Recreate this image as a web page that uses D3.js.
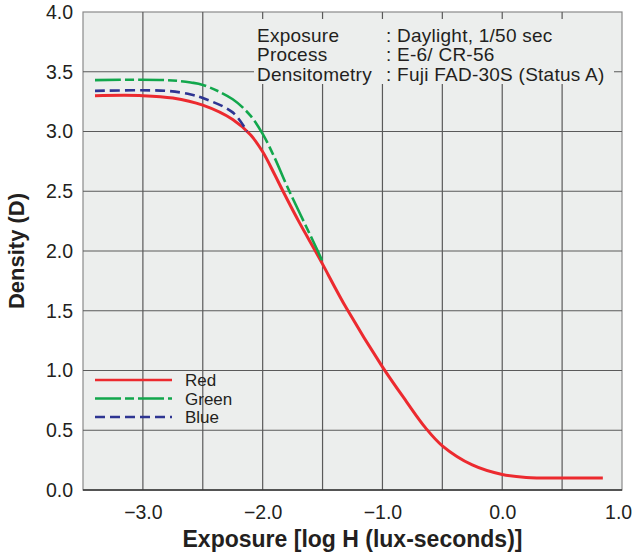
<!DOCTYPE html>
<html>
<head>
<meta charset="utf-8">
<script src="https://cdn.jsdelivr.net/npm/d3@7"></script>
<style>
  body { margin: 0; background: #fff; }
  text { font-family: "Liberation Sans", Arial, sans-serif; fill: #231f20; }
</style>
</head>
<body>
<div id="chart"></div>
<script>
// characteristic curves: [log H, density]
const red = [[-3.4, 3.30], [-3.0, 3.30], [-2.75, 3.28], [-2.5, 3.22], [-2.25, 3.10],
  [-2.1, 2.97], [-2.0, 2.83], [-1.9, 2.64], [-1.83, 2.5], [-1.7, 2.25], [-1.56, 2.0],
  [-1.5, 1.89], [-1.3, 1.52], [-1.0, 1.03], [-0.8, 0.74], [-0.64, 0.52], [-0.5, 0.37],
  [-0.25, 0.21], [0.0, 0.13], [0.2, 0.105], [0.5, 0.10], [0.84, 0.10]];
const green = [[-3.4, 3.43], [-2.8, 3.43], [-2.6, 3.41], [-2.5, 3.39], [-2.25, 3.27],
  [-2.1, 3.13], [-2.0, 2.98], [-1.9, 2.78], [-1.8, 2.55], [-1.54, 2.0], [-1.5, 1.91]];
const blue = [[-3.4, 3.34], [-2.8, 3.34], [-2.6, 3.31], [-2.5, 3.28], [-2.25, 3.16],
  [-2.13, 3.00]];

const xTicks = [-3, -2, -1, 0, 1];
const yTicks = [0, 0.5, 1, 1.5, 2, 2.5, 3, 3.5, 4];
const gridX = [-3, -2.5, -2, -1.5, -1, -0.5, 0, 0.5];
const gridY = [0.5, 1, 1.5, 2, 2.5, 3, 3.5];

const noteKeys = ["Exposure", "Process", "Densitometry"];
const noteVals = [": Daylight, 1/50 sec", ": E-6/ CR-56", ": Fuji FAD-30S (Status A)"];

const series = [
  { name: "Red", data: red, color: "#ec2a2f", dash: null, w: 3 },
  { name: "Green", data: green, color: "#12a74c", dash: "26,4,9,4", w: 2.6 },
  { name: "Blue", data: blue, color: "#2e3592", dash: "10,5", w: 2.6 }
];

const width = 634, height = 552,
  margin = ({ top: 12, right: 12, bottom: 62, left: 83 });

const svg = d3.select("#chart")
  .append("svg")
  .attr("width", width)
  .attr("height", height);

let x = d3.scaleLinear()
  .domain([-3.5, 1])
  .range([margin.left, width - margin.right]);

let y = d3.scaleLinear()
  .domain([0, 4])
  .range([height - margin.bottom, margin.top]);

// plot background
svg.append("rect")
  .attr("x", x(-3.5))
  .attr("y", y(4))
  .attr("width", x(1) - x(-3.5))
  .attr("height", y(0) - y(4))
  .attr("fill", "#eceeed")
  .attr("stroke", "#8a8a8a")
  .attr("stroke-width", 1.2);

// grid
svg.append("g")
  .selectAll("line.gx")
  .data(gridX)
  .join("line")
    .attr("x1", d => x(d)).attr("x2", d => x(d))
    .attr("y1", y(0)).attr("y2", y(4))
    .attr("stroke", "#5a5a5a")
    .attr("stroke-width", 1.2);

svg.append("g")
  .selectAll("line.gy")
  .data(gridY)
  .join("line")
    .attr("x1", x(-3.5)).attr("x2", x(1))
    .attr("y1", d => y(d)).attr("y2", d => y(d))
    .attr("stroke", "#5a5a5a")
    .attr("stroke-width", 1.2);

// bottom edge a little darker
svg.append("line")
  .attr("x1", x(-3.5)).attr("x2", x(1))
  .attr("y1", y(0)).attr("y2", y(0))
  .attr("stroke", "#333")
  .attr("stroke-width", 1.4);

// note box covers the grid
svg.append("rect")
  .attr("x", 254).attr("y", 19)
  .attr("width", 360).attr("height", 65)
  .attr("fill", "#eceeed");

const note = svg.append("g")
  .attr("font-size", "19px")
  .attr("letter-spacing", "0.25px");
note.selectAll("text.k")
  .data(noteKeys)
  .join("text")
    .attr("x", 257)
    .attr("y", (d, i) => 41.5 + i * 19.8)
    .text(d => d);
note.selectAll("text.v")
  .data(noteVals)
  .join("text")
    .attr("x", 386)
    .attr("y", (d, i) => 41.5 + i * 19.8)
    .text(d => d);

// axes
svg.append("g")
  .attr("transform", `translate(${margin.left},0)`)
  .call(d3.axisLeft(y).tickValues(yTicks).tickFormat(d3.format(".1f")).tickSize(0).tickPadding(10))
  .call(g => g.select(".domain").remove())
  .selectAll("text")
    .attr("font-size", "19.5px")
    .attr("font-family", "Liberation Sans, Arial, sans-serif")
    .attr("fill", "#231f20");

svg.append("g")
  .attr("transform", `translate(0,${height - margin.bottom})`)
  .call(d3.axisBottom(x).tickValues(xTicks).tickFormat(d3.format(".1f")).tickSize(0).tickPadding(15))
  .call(g => g.select(".domain").remove())
  .selectAll("text")
    .attr("font-size", "19.5px")
    .attr("font-family", "Liberation Sans, Arial, sans-serif")
    .attr("fill", "#231f20")
    .attr("dx", d => d === 1 ? "-0.2em" : 0);

svg.append("text")
  .attr("text-anchor", "middle")
  .attr("x", (x(-3.5) + x(1)) / 2)
  .attr("y", 547)
  .attr("font-size", "23px")
  .attr("font-weight", "bold")
  .text("Exposure [log H (lux-seconds)]");

svg.append("text")
  .attr("text-anchor", "middle")
  .attr("transform", `translate(24,${(y(0) + y(4)) / 2}) rotate(-90)`)
  .attr("font-size", "22px")
  .attr("font-weight", "bold")
  .text("Density (D)");

// curves
let line = d3.line()
  .x(d => x(d[0]))
  .y(d => y(d[1]))
  .curve(d3.curveCatmullRom.alpha(0.5));

svg.append("g")
  .selectAll("path")
  .data(series)
  .join("path")
    .attr("d", d => line(d.data))
    .attr("fill", "none")
    .attr("stroke", d => d.color)
    .attr("stroke-width", d => d.w)
    .attr("stroke-dasharray", d => d.dash);

// legend
const legend = svg.append("g").attr("transform", "translate(95,380)");
legend.selectAll("line")
  .data(series)
  .join("line")
    .attr("x1", 0).attr("x2", 77)
    .attr("y1", (d, i) => i * 18.5).attr("y2", (d, i) => i * 18.5)
    .attr("stroke", d => d.color)
    .attr("stroke-width", 2.4)
    .attr("stroke-dasharray", d => d.dash);
legend.selectAll("text")
  .data(series)
  .join("text")
    .attr("x", 90)
    .attr("y", (d, i) => i * 18.5 + 6)
    .attr("font-size", "17px")
    .text(d => d.name);
</script>
</body>
</html>
